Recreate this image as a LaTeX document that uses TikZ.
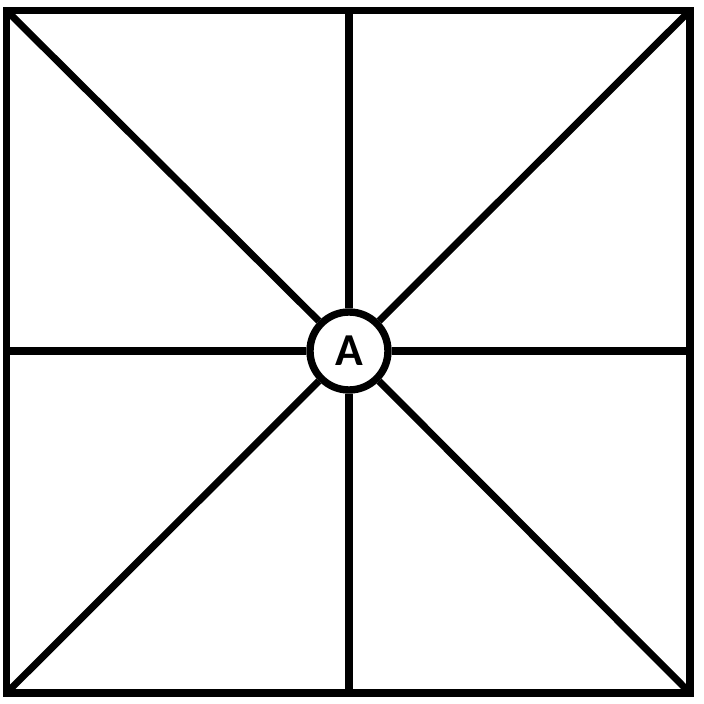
\documentclass[tikz,border=0pt]{standalone}
\usepackage{fontspec}
\newfontfamily\labelfont{Carlito}
\usetikzlibrary{positioning}
\tikzset{
  thick line/.style={line width=4pt},
  hub/.style={circle, draw, line width=4.2pt, fill=white, minimum size=1.56cm, inner sep=0pt,
    font=\labelfont\bfseries\fontsize{26}{30}\selectfont}
}
\begin{document}
\begin{tikzpicture}[x=0.02cm,y=0.02cm]
        \useasboundingbox (0,0) rectangle (704,704);
        % Corners and edge midpoints
        \coordinate (tl) at (6.5,693.5);
        \coordinate (tr) at (690,693.5);
        \coordinate (br) at (690,11);
        \coordinate (bl) at (6.5,11);
        \coordinate (top) at (349,693.5);
        \coordinate (bottom) at (349,11);
        \coordinate (left) at (6.5,353);
        \coordinate (right) at (690,353);
        % Outer square
        \draw[thick line] (tl) -- (tr) -- (br) -- (bl) -- cycle;
        % Centre
        \node[hub] (A) at (349,353) {A};
        % Spokes
        \foreach \p in {tl,tr,br,bl,top,bottom,left,right}
          \draw[thick line] (A) -- (\p);
\end{tikzpicture}
\end{document}
